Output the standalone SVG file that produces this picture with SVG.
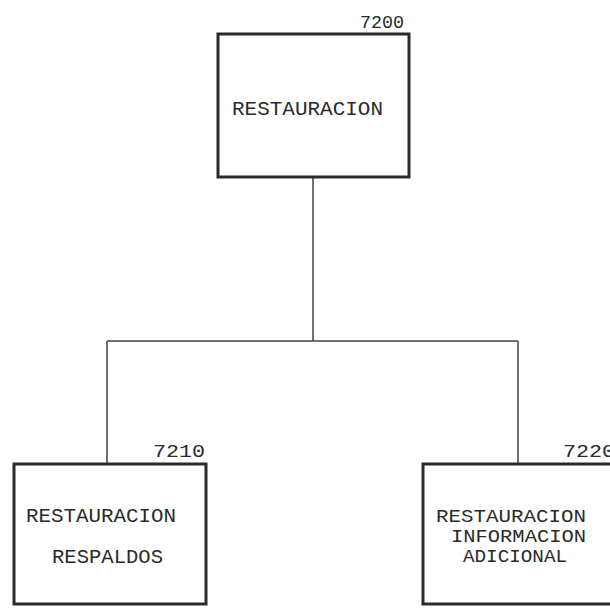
<svg xmlns="http://www.w3.org/2000/svg" width="610" height="608" viewBox="0 0 610 608">
<style>
.box{fill:#fff;stroke:#2a2a2a;stroke-width:3}
.ln{fill:none;stroke:#444;stroke-width:1.5}
.t{font-family:"Liberation Mono","DejaVu Sans Mono",monospace;font-size:21px;fill:#2a2a2a}
.s{font-size:17.5px}
.n{font-family:"Liberation Mono","DejaVu Sans Mono",monospace;font-size:19px;fill:#2a2a2a}
</style>
<rect width="610" height="608" fill="#fff"/>
<g id="connectors">
<path class="ln" d="M313 178 V341 M107 341 H518 M107 341 V463 M518 341 V463"/>
</g>
<g id="n7200">
<rect class="box" x="218" y="34" width="191" height="143"/>
<text class="n" x="360" y="28" textLength="44" lengthAdjust="spacingAndGlyphs">7200</text>
<text class="t" x="232" y="115" textLength="151" lengthAdjust="spacingAndGlyphs">RESTAURACION</text>
</g>
<g id="n7210">
<rect class="box" x="14" y="464" width="192" height="140"/>
<text class="n" x="153" y="457" textLength="52" lengthAdjust="spacingAndGlyphs">7210</text>
<text class="t" x="26" y="522" textLength="150" lengthAdjust="spacingAndGlyphs">RESTAURACION</text>
<text class="t" x="52" y="563" textLength="111" lengthAdjust="spacingAndGlyphs">RESPALDOS</text>
</g>
<g id="n7220">
<rect class="box" x="423" y="464" width="192" height="140"/>
<text class="n" x="563" y="457" textLength="52" lengthAdjust="spacingAndGlyphs">7220</text>
<text class="t s" x="436" y="522" textLength="150" lengthAdjust="spacingAndGlyphs">RESTAURACION</text>
<text class="t s" x="451" y="542" textLength="135" lengthAdjust="spacingAndGlyphs">INFORMACION</text>
<text class="t s" x="463" y="562" textLength="104" lengthAdjust="spacingAndGlyphs">ADICIONAL</text>
</g>
</svg>
